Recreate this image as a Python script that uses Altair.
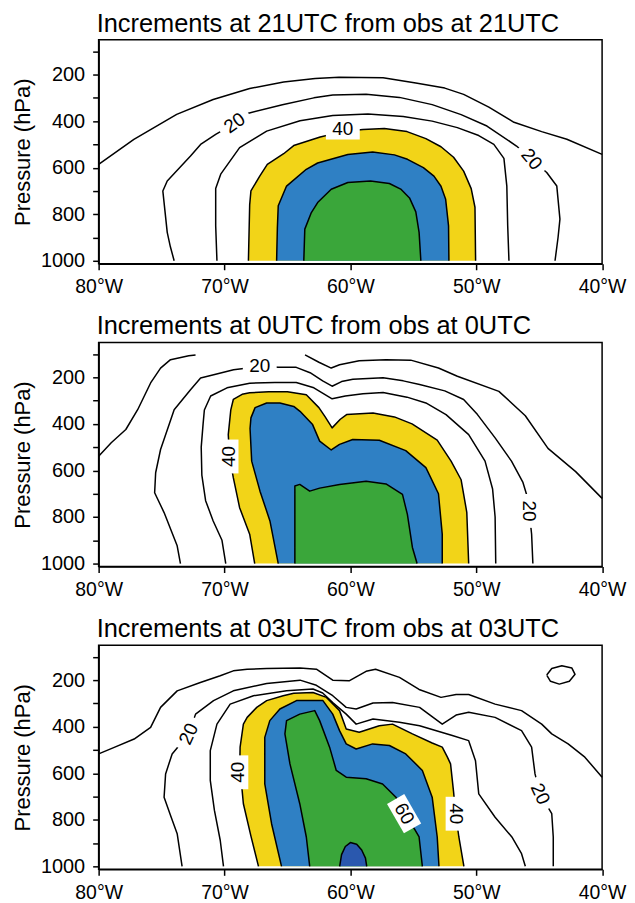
import altair as alt
import pandas as pd

# ---------------- text ----------------
TITLES = [
    "Increments at 21UTC from obs at 21UTC",
    "Increments at 0UTC from obs at 0UTC",
    "Increments at 03UTC from obs at 03UTC",
]
Y_TITLE = "Pressure (hPa)"
X_TICKS = [-80, -70, -60, -50, -40]
Y_TICKS = [100, 200, 300, 400, 500, 600, 700, 800, 900, 1000]

YELLOW = "#f2d418"
BLUE = "#2f80c4"
GREEN = "#3aa63a"
DKBLUE = "#2a58ae"

# ---------------- panel 1 (21UTC) ----------------
P1_L10_LON = [-80, -77.2, -73.8, -70.9, -68.0, -65.3, -62.8, -60.9, -57.4, -54.8, -52.5, -51.0, -49.0, -47.0, -44.8, -42.8, -40]
P1_L10_P = [586, 478, 371, 307, 260, 232, 217, 211, 214, 236, 258, 285, 340, 405, 445, 478, 543]
P1_L20_LON = [-74.0, -74.3, -74.55, -74.9, -74.55, -72.7, -71.9, -70.7, -69.2, -68.1, -65.4, -62.9, -61.4, -58.75, -56.1, -53.5, -51.2, -49.15, -46.8, -45.6, -44.4, -43.6, -43.35, -43.5, -43.74]
P1_L20_P = [1000, 940, 878, 700, 657, 550, 500, 457, 410, 366, 330, 300, 288, 284, 298, 329, 372, 421, 507, 564, 621, 679, 821, 900, 1000]
P1_L30_LON = [-70.6, -70.7, -70.7, -70.3, -68.8, -66.65, -64.0, -61.4, -58.6, -55.8, -53.5, -51.5, -49.8, -48.6, -47.8, -47.57, -47.5, -47.4]
P1_L30_P = [1000, 850, 690, 628, 514, 443, 398, 376, 369, 380, 400, 428, 462, 500, 560, 679, 850, 1000]
P1_Y_LON = [-68.1, -68.0, -67.9, -67.2, -66.6, -65.3, -64.5, -62.4, -60.6, -59.0, -57.3, -55.5, -54.0, -52.8, -51.8, -51.0, -50.4, -50.1, -50.05]
P1_Y_P = [1000, 760, 700, 636, 586, 540, 505, 468, 445, 436, 432, 445, 475, 510, 555, 615, 690, 770, 1000]
P1_B_LON = [-65.86, -65.8, -65.73, -65.07, -63.5, -62.6, -60.2, -58.23, -56.5, -55.46, -54.2, -53.36, -52.8, -52.43, -52.2, -52.17]
P1_B_P = [1000, 860, 764, 679, 607, 580, 543, 533, 545, 564, 600, 636, 680, 736, 850, 1000]
P1_G_LON = [-63.7, -63.62, -63.1, -62.6, -61.52, -60.2, -58.4, -56.9, -56.0, -55.3, -54.8, -54.54, -54.4]
P1_G_P = [1000, 864, 793, 750, 693, 664, 657, 668, 692, 730, 790, 878, 1000]
P1_LAB_TXT = ["20", "40", "20"]
P1_LAB_LON = [-69.2, -60.6, -45.6]
P1_LAB_P = [408, 436, 564]
P1_LAB_ANG = [325, 0, 50]

# ---------------- panel 2 (0UTC) ----------------
P2_L10A_LON = [-80, -79.0, -77.84, -76.9, -75.87, -75.08, -74.29, -72.84, -72.3]
P2_L10A_P = [539, 481, 424, 339, 224, 160, 124, 107, 104]
P2_L10B_LON = [-63.6, -62.5, -61.52, -60.86, -59.3, -57.17, -55.2, -53.0, -51.5, -48.2, -46.1, -44.3, -42.1, -40]
P2_L10B_P = [103, 135, 160, 146, 129, 124, 126, 160, 195, 260, 365, 505, 605, 720]
P2_L20_LON = [-73.5, -73.76, -74.8, -75.55, -75.47, -75.08, -74.0, -72.7, -71.9, -70.86, -69.28, -67.2, -65.7, -64.3, -63.2, -62.2, -61.45, -60.7, -59.8, -57.4, -55.8, -54.5, -52.5, -51.0, -49.9, -48.5, -47.2, -46.3, -46.0, -45.8, -45.6, -45.5]
P2_L20_P = [1000, 924, 781, 696, 610, 510, 339, 253, 203, 189, 167, 153, 157, 157, 180, 215, 238, 218, 208, 202, 215, 231, 258, 295, 360, 460, 560, 650, 703, 774, 874, 1000]
P2_L30_LON = [-69.9, -70.2, -70.9, -71.5, -71.8, -71.85, -71.7, -71.6, -71.1, -69.8, -68.0, -66.0, -64.3, -62.9, -61.45, -60.4, -59.0, -57.4, -55.5, -54.0, -52.4, -50.6, -49.3, -48.7, -48.5, -48.45]
P2_L30_P = [1000, 900, 817, 730, 620, 500, 400, 340, 280, 245, 225, 222, 222, 245, 292, 280, 270, 265, 285, 310, 360, 446, 560, 680, 800, 1000]
P2_Y_LON = [-67.6, -68.0, -68.8, -69.3, -69.6, -69.7, -69.5, -69.3, -68.6, -68.0, -66.5, -65.0, -63.5, -62.5, -62.0, -61.45, -60.8, -60.3, -58.2, -56.5, -55.1, -53.1, -52.0, -51.2, -50.75, -50.6]
P2_Y_P = [1000, 874, 760, 631, 540, 446, 340, 295, 273, 266, 262, 262, 275, 330, 370, 417, 380, 360, 353, 370, 400, 470, 560, 640, 780, 1000]
P2_B_LON = [-65.73, -66.39, -67.18, -67.84, -67.97, -67.9, -67.57, -66.65, -65.6, -64.5, -64.0, -63.0, -62.44, -61.52, -60.86, -59.81, -57.7, -55.6, -54.0, -53.0, -52.7, -52.7]
P2_B_P = [1000, 817, 689, 560, 420, 374, 330, 310, 310, 325, 346, 403, 474, 512, 488, 467, 470, 515, 588, 700, 874, 1000]
P2_G_LON = [-64.41, -64.41, -64.02, -63.23, -62.44, -60.86, -58.75, -57.17, -55.86, -55.47, -55.07, -54.7]
P2_G_P = [1000, 667, 660, 689, 676, 660, 646, 658, 703, 789, 931, 1000]
P2_LAB_TXT = ["20", "40", "20"]
P2_LAB_LON = [-67.2, -69.68, -45.8]
P2_LAB_P = [153, 540, 774]
P2_LAB_ANG = [0, 270, 90]

# ---------------- panel 3 (03UTC) ----------------
P3_L10_LON = [-80, -78.76, -77.18, -75.87, -75.08, -73.76, -71.92, -70.34, -69.3, -68.2, -66.65, -64.0, -62.7, -61.4, -60.1, -58.75, -58.0, -56.1, -54.54, -52.8, -51.6, -50.6, -48.5, -46.4, -44.8, -44.0, -42.7, -41.37, -40]
P3_L10_P = [517, 489, 453, 403, 317, 246, 210, 181, 160, 153, 150, 148, 153, 200, 203, 162, 153, 188, 240, 274, 262, 262, 303, 331, 389, 431, 474, 531, 617]
P3_L20_LON = [-73.37, -73.76, -74.3, -74.8, -74.68, -74.16, -72.84, -72.3, -70.87, -69.3, -66.65, -64.0, -62.7, -61.4, -60.33, -59.54, -58.2, -56.65, -54.5, -52.7, -51.6, -50.6, -48.5, -46.4, -45.6, -45.33, -44.93, -44.0, -43.88, -43.88]
P3_L20_P = [1000, 860, 780, 703, 603, 517, 431, 346, 288, 246, 214, 200, 222, 267, 317, 324, 298, 296, 317, 389, 350, 338, 360, 417, 488, 603, 689, 774, 874, 1000]
P3_L30_LON = [-70.08, -70.34, -70.8, -71.13, -71.13, -70.6, -69.55, -67.7, -65.07, -62.97, -62.2, -61.4, -60.33, -59.54, -58.2, -56.1, -54.5, -51.9, -50.6, -50.06, -49.8, -48.5, -47.17, -46.4, -46.1]
P3_L30_P = [1000, 888, 760, 631, 503, 389, 303, 267, 246, 238, 255, 296, 346, 389, 367, 381, 396, 438, 460, 546, 689, 789, 874, 946, 1000]
P3_RING_LON = [-44.4, -44.0, -43.2, -42.4, -42.15, -42.6, -43.4, -44.1, -44.4]
P3_RING_P = [178, 150, 138, 148, 175, 205, 217, 205, 178]
P3_Y_LON = [-67.3, -67.9, -68.5, -68.6, -68.8, -68.76, -68.5, -68.2, -67.44, -66.65, -65.34, -64.5, -62.97, -61.9, -60.86, -60.33, -59.3, -57.7, -56.65, -55.07, -53.5, -52.7, -52.3, -52.04, -51.8, -51.64, -51.38, -50.98]
P3_Y_P = [1000, 870, 731, 674, 596, 488, 389, 360, 317, 288, 267, 256, 253, 274, 331, 410, 424, 396, 389, 431, 470, 488, 530, 560, 680, 774, 874, 1000]
P3_B_LON = [-65.47, -66.26, -66.8, -66.8, -66.4, -65.6, -64.28, -62.18, -61.4, -60.86, -60.33, -59.54, -58.23, -56.9, -55.6, -54.28, -53.5, -53.1, -52.96]
P3_B_P = [1000, 817, 646, 446, 374, 324, 288, 288, 346, 417, 474, 496, 474, 481, 517, 588, 703, 874, 1000]
P3_G_LON = [-63.23, -63.5, -64.02, -64.8, -65.2, -65.07, -64.02, -62.83, -62.44, -61.65, -61.12, -60.33, -58.75, -57.44, -56.38, -55.73, -54.9, -54.54, -54.28]
P3_G_P = [1000, 874, 731, 560, 431, 374, 346, 331, 374, 488, 588, 617, 624, 646, 703, 774, 840, 874, 1000]
P3_D_LON = [-60.85, -60.7, -60.4, -60.0, -59.5, -59.1, -58.8, -58.7]
P3_D_P = [1000, 950, 915, 898, 905, 930, 965, 1000]
P3_LAB_TXT = ["20", "40", "60", "40", "20"]
P3_LAB_LON = [-72.84, -68.9, -55.73, -51.64, -44.93]
P3_LAB_P = [431, 596, 774, 774, 689]
P3_LAB_ANG = [295, 270, 60, 90, 65]

PANELS = [
    dict(lines=[(P1_L10_LON, P1_L10_P), (P1_L20_LON, P1_L20_P), (P1_L30_LON, P1_L30_P)],
         fills=[(P1_Y_LON, P1_Y_P, YELLOW), (P1_B_LON, P1_B_P, BLUE), (P1_G_LON, P1_G_P, GREEN)],
         labels=(P1_LAB_TXT, P1_LAB_LON, P1_LAB_P, P1_LAB_ANG)),
    dict(lines=[(P2_L10A_LON, P2_L10A_P), (P2_L10B_LON, P2_L10B_P), (P2_L20_LON, P2_L20_P), (P2_L30_LON, P2_L30_P)],
         fills=[(P2_Y_LON, P2_Y_P, YELLOW), (P2_B_LON, P2_B_P, BLUE), (P2_G_LON, P2_G_P, GREEN)],
         labels=(P2_LAB_TXT, P2_LAB_LON, P2_LAB_P, P2_LAB_ANG)),
    dict(lines=[(P3_L10_LON, P3_L10_P), (P3_L20_LON, P3_L20_P), (P3_L30_LON, P3_L30_P), (P3_RING_LON, P3_RING_P)],
         fills=[(P3_Y_LON, P3_Y_P, YELLOW), (P3_B_LON, P3_B_P, BLUE), (P3_G_LON, P3_G_P, GREEN), (P3_D_LON, P3_D_P, DKBLUE)],
         labels=(P3_LAB_TXT, P3_LAB_LON, P3_LAB_P, P3_LAB_ANG)),
]

FONT = "Liberation Sans"
W, H = 505.5, 225


def curves_df(curves):
    rows = []
    for cid, (lons, ps) in enumerate(curves):
        for i, (lo, p) in enumerate(zip(lons, ps)):
            rows.append({"cid": cid, "i": i, "lon": lo, "p": p})
    return pd.DataFrame(rows)


def enc_xy():
    x = alt.X("lon:Q",
              scale=alt.Scale(domain=[-80, -40], nice=False, zero=False),
              axis=alt.Axis(values=X_TICKS, labelExpr="abs(datum.value) + '°W'", title=None,
                            labelFlush=False, labelOverlap=False, grid=False, labelFontSize=19.5))
    y = alt.Y("p:Q",
              scale=alt.Scale(domain=[50, 1013], reverse=True, nice=False, zero=False),
              axis=alt.Axis(values=Y_TICKS, labelExpr="datum.value % 200 == 0 ? datum.value : ''",
                            title=Y_TITLE, labelOverlap=False, grid=False, labelFontSize=20,
                            minExtent=59, maxExtent=59, titlePadding=5))
    return x, y


def panel(k):
    spec = PANELS[k]
    x, y = enc_xy()
    layers = []
    for lons, ps, col in spec["fills"]:
        df = curves_df([(lons, ps)])
        layers.append(alt.Chart(df).mark_line(fill=col, stroke="black", strokeWidth=1.5,
                                              strokeJoin="round").encode(
            x=x, y=y, order=alt.Order("i:Q")))
    ldf = curves_df(spec["lines"])
    layers.append(alt.Chart(ldf).mark_line(color="black", strokeWidth=1.5, strokeJoin="round").encode(
        x=x, y=y, detail="cid:N", order=alt.Order("i:Q")))
    txt, lo, pp, ang = spec["labels"]
    labdf = pd.DataFrame({"txt": txt, "lon": lo, "p": pp, "ang": ang})
    layers.append(alt.Chart(labdf).mark_point(shape="M-1.7,-1L1.7,-1L1.7,1L-1.7,1Z", filled=True,
                                              color="white", opacity=1, size=400, strokeWidth=0).encode(
        x=x, y=y, angle=alt.Angle("ang:Q", scale=None)))
    layers.append(alt.Chart(labdf).mark_text(fontSize=19, font=FONT, color="black",
                                             align="center", baseline="middle").encode(
        x=x, y=y, text="txt:N", angle=alt.Angle("ang:Q", scale=None)))
    tdf = pd.DataFrame({"t": [TITLES[k]]})
    layers.append(alt.Chart(tdf).mark_text(fontSize=25.5, font=FONT, color="black",
                                           align="left", baseline="alphabetic").encode(
        x=alt.value(-2), y=alt.value(-8), text="t:N"))
    return alt.layer(*layers).properties(width=W, height=H)


chart = alt.vconcat(panel(0), panel(1), panel(2), spacing=16).properties(
    padding={"left": 3, "top": 1, "right": 0, "bottom": 0}
).configure(font=FONT).configure_view(
    stroke="black", strokeWidth=1.5
).configure_axis(
    domainColor="black", domainWidth=1.5, tickColor="black", tickWidth=1.5, tickSize=6,
    labelColor="black", labelFont=FONT, labelPadding=8,
    titleColor="black", titleFont=FONT, titleFontSize=22, titleFontWeight="normal"
)

chart.save("out.html", embed_options={"renderer": "svg", "actions": False})
